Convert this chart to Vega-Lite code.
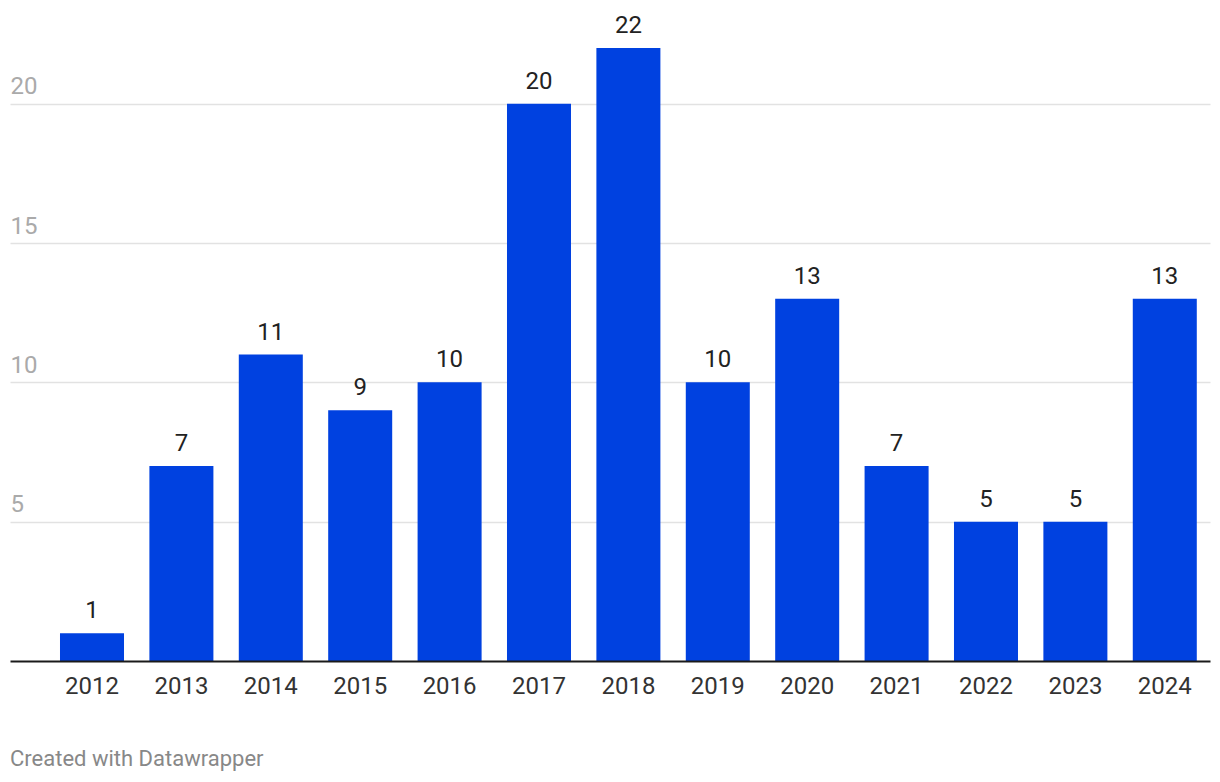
{
  "$schema": "https://vega.github.io/schema/vega-lite/v6.json",
  "autosize": {"type": "none"},
  "width": 1200,
  "height": 613,
  "padding": {"left": 10, "top": 48, "right": 10, "bottom": 121},
  "background": "white",
  "config": {"view": {"stroke": null}, "font": "Roboto"},
  "title": {
    "text": "Created with Datawrapper",
    "orient": "bottom",
    "anchor": "start",
    "frame": "group",
    "font": "Roboto",
    "fontSize": 22,
    "fontWeight": "normal",
    "color": "#888888",
    "offset": 51
  },
  "data": {
    "values": [
      {"year": "2012", "value": 1},
      {"year": "2013", "value": 7},
      {"year": "2014", "value": 11},
      {"year": "2015", "value": 9},
      {"year": "2016", "value": 10},
      {"year": "2017", "value": 20},
      {"year": "2018", "value": 22},
      {"year": "2019", "value": 10},
      {"year": "2020", "value": 13},
      {"year": "2021", "value": 7},
      {"year": "2022", "value": 5},
      {"year": "2023", "value": 5},
      {"year": "2024", "value": 13}
    ]
  },
  "encoding": {
    "x": {
      "field": "year",
      "type": "nominal",
      "sort": null,
      "scale": {"paddingInner": 0.284, "paddingOuter": 0.3535, "align": 0.791},
      "axis": {
        "title": null,
        "labelAngle": 0,
        "ticks": false,
        "domain": true,
        "domainColor": "#1a1a1a",
        "domainWidth": 2,
        "labelFont": "Roboto",
        "labelFontSize": 24,
        "labelColor": "#333333",
        "labelPadding": 13,
        "zindex": 2
      }
    },
    "y": {
      "field": "value",
      "type": "quantitative",
      "scale": {"domain": [0, 22], "nice": false},
      "axis": {
        "title": null,
        "values": [5, 10, 15, 20],
        "domain": false,
        "ticks": false,
        "tickSize": 0,
        "labelPadding": 0,
        "labelAlign": "left",
        "labelBaseline": "alphabetic",
        "labelOffset": -10,
        "labelFont": "Roboto",
        "labelFontSize": 24,
        "labelColor": "#aaaaaa",
        "grid": true,
        "gridColor": "#e2e2e2",
        "gridWidth": 1.5,
        "labelBound": false,
        "labelOverlap": false
      }
    }
  },
  "layer": [
    {"mark": {"type": "bar", "color": "#0041e0"}},
    {
      "mark": {
        "type": "text",
        "baseline": "alphabetic",
        "dy": -15,
        "font": "Roboto",
        "fontSize": 24,
        "color": "#222222"
      },
      "encoding": {"text": {"field": "value", "type": "quantitative"}}
    }
  ]
}
